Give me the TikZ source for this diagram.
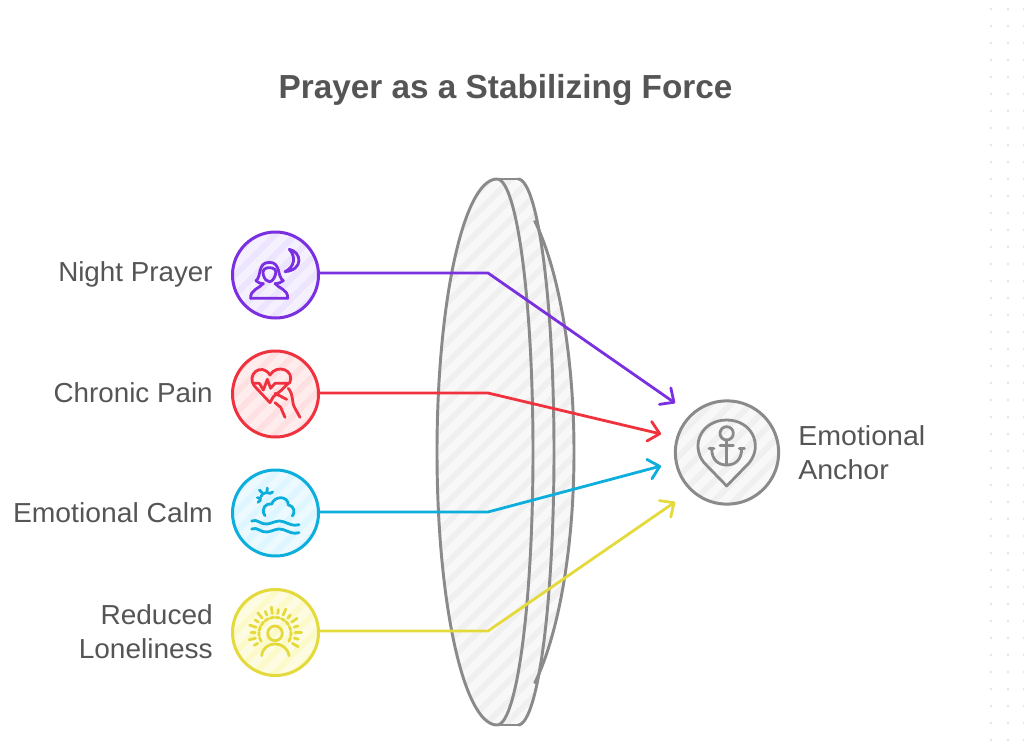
\documentclass[tikz,border=0pt]{standalone}
\usepackage{fontspec}
\setmainfont{Liberation Sans}
\usetikzlibrary{arrows.meta}
\pgfdeclarearrow{
  name=Chev,
  setup code={\pgfarrowssettipend{1pt}\pgfarrowssetlineend{-0.5pt}\pgfarrowssetbackend{-8pt}\pgfarrowssetvisualbackend{-0.5pt}},
  drawing code={\pgfsetdash{}{0pt}\pgfsetroundcap\pgfsetroundjoin
    \pgfpathmoveto{\pgfqpoint{-8pt}{7.5pt}}\pgfpathlineto{\pgfqpoint{0pt}{0pt}}\pgfpathlineto{\pgfqpoint{-8pt}{-7.5pt}}\pgfusepathqstroke},
  defaults={}
}
\definecolor{cpur}{HTML}{7A30E0}\definecolor{fpur}{HTML}{EDE4FD}\definecolor{spur}{HTML}{F5F0FE}
\definecolor{cred}{HTML}{F0323F}\definecolor{fred}{HTML}{FFE0E2}\definecolor{sred}{HTML}{FFEDEE}
\definecolor{cblu}{HTML}{0CAEDC}\definecolor{fblu}{HTML}{DDF6FF}\definecolor{sblu}{HTML}{ECFAFF}
\definecolor{cyel}{HTML}{E4DA3C}\definecolor{fyel}{HTML}{FBFAC8}\definecolor{syel}{HTML}{FDFCE2}
\definecolor{cgry}{HTML}{8A8A8A}\definecolor{fgry}{HTML}{F0F0F0}\definecolor{sgry}{HTML}{F8F8F8}
\definecolor{ctxt}{HTML}{555555}
\tikzset{
  x=0.75pt,y=-0.75pt,
  disc/.style={circle,minimum size=64.5pt,inner sep=0pt,line width=2.25pt},
  lab/.style={text=ctxt,font=\fontsize{20.6}{25.5}\selectfont,align=right,anchor=east,inner sep=0pt,transform shape},
  conn/.style={line width=2.1pt,line join=miter,-{Chev}},
  zoomed/.style={x=.25pt,y=-.25pt,line width=2.1pt,line cap=round,line join=round},
}
\begin{document}
\begin{tikzpicture}
\useasboundingbox (0,0) rectangle (1024,746);
\fill[white] (0,0) rectangle (1024,746);
% dotted margin
\foreach \c in {991,1008,1024}{\foreach \r in {0,...,43}{\fill[black!10] (\c,9+17*\r) circle (1.1pt);}}
% title
\node[text=ctxt,font=\bfseries\fontsize{25}{30}\selectfont,inner sep=0pt] (title) at (505.5,90) {Prayer as a Stabilizing Force};
% lens
\begin{scope}
  \clip plot[domain=-90:90,samples=61,smooth] ({518+36*cos(\x)},{452+273*sin(\x)}) -- (518,725)-- (497,725) -- plot[domain=90:270,samples=61,smooth] ({497+60*cos(\x)},{452+273*sin(\x)}) -- cycle
        plot[domain=-54.3:54.3,samples=41,smooth] ({490+84*cos(\x)},{452+273*sin(\x)}) -- cycle;
  \fill[fgry] (430,170) rectangle (580,730);
  \foreach \k in {0,...,60}{\draw[sgry,line width=6pt] (430,170+\k*20) -- ++(600,-600);}
\end{scope}
\draw[cgry,line width=2.2pt] plot[domain=-58:58,samples=41,smooth] ({490+84*cos(\x)},{452+273*sin(\x)});
\draw[cgry,line width=2.2pt] plot[domain=-90:90,samples=61,smooth] ({518+36*cos(\x)},{452+273*sin(\x)});
\draw[cgry,line width=2.2pt] plot[domain=-90:90,samples=61,smooth] ({497+36*cos(\x)},{452+273*sin(\x)});
\draw[cgry,line width=2.2pt] plot[domain=90:270,samples=61,smooth] ({497+60*cos(\x)},{452+273*sin(\x)});
\draw[cgry,line width=2.2pt] (497,179) -- (518,179) (497,725) -- (518,725);
% discs
\foreach \n/\cy/\cc/\ff/\ss in {a/275/cpur/fpur/spur,b/394/cred/fred/sred,c/513/cblu/fblu/sblu,d/632.5/cyel/fyel/syel}{
  \begin{scope}
    \clip (275.5,\cy) circle (32pt);
    \fill[\ff] (230,\cy-45) rectangle (320,\cy+45);
    \foreach \k in {0,...,12}{\draw[\ss,line width=6pt] (230,\cy-45+\k*20) -- ++(200,-200);}
  \end{scope}
  \node[disc,draw=\cc] (\n) at (275.5,\cy) {};
}
\begin{scope}
  \clip (727,452.5) circle (38.5pt);
  \fill[fgry] (670,395) rectangle (785,510);
  \foreach \k in {0,...,14}{\draw[sgry,line width=6pt] (670,395+\k*20) -- ++(250,-250);}
\end{scope}
\node[circle,minimum size=77.5pt,inner sep=0pt,line width=2.25pt,draw=cgry] (e) at (727,452.5) {};
% connectors
\coordinate (a1) at (488,273); \coordinate (b1) at (488,393); \coordinate (c1) at (488,512); \coordinate (d1) at (488,631);
\coordinate (a2) at (675,403); \coordinate (b2) at (661,434); \coordinate (c2) at (661,466); \coordinate (d2) at (675,502);
\draw[conn,cpur] (a.east |- a1) -- (a1) -- (a2);
\draw[conn,cred] (b.east |- b1) -- (b1) -- (b2);
\draw[conn,cblu] (c.east |- c1) -- (c1) -- (c2);
\draw[conn,cyel] (d.east |- d1) -- (d1) -- (d2);
% labels
\node[lab,xscale=1.012] (la) at (213,274) {Night Prayer};
\node[lab,xscale=1.012] (lb) at (213,393) {Chronic Pain};
\node[lab,xscale=1.03] (lc) at (213,513) {Emotional Calm};
\node[lab,xscale=1.02] (ld) at (213,632) {Reduced\\Loneliness};
\node[lab,align=left,anchor=west,xscale=1.04] (le) at (798,453) {Emotional\\Anchor};
% purple icon
\begin{scope}[shift={(220,220)},zoomed,draw=cpur]
  \draw (92,235) -- (203,235) .. controls (205,208) and (175,205) .. (165,190);
  \draw (92,235) .. controls (90,208) and (120,205) .. (130,190);
  \draw (130,192) .. controls (122,190) and (112,188) .. (108,182) .. controls (125,170) and (112,127) .. (148,127) .. controls (184,127) and (170,170) .. (190,182) .. controls (184,188) and (174,190) .. (165,192);
  \draw (130,165) .. controls (125,150) and (135,143) .. (148,143) .. controls (162,143) and (172,150) .. (166,165) .. controls (162,178) and (155,185) .. (148,185) .. controls (140,185) and (134,178) .. (130,165);
  \draw (208,88) .. controls (245,95) and (252,150) .. (195,155) .. controls (225,140) and (228,110) .. (208,88) -- cycle;
\end{scope}
% red icon
\begin{scope}[shift={(220,220)},zoomed,draw=cred]
  \draw (150,548) -- (105,500) .. controls (75,465) and (125,425) .. (150,465) .. controls (170,430) and (228,450) .. (208,490);
  \draw (100,490) -- (118,490) -- (130,510) -- (142,478) -- (152,505) -- (165,490) -- (205,490) -- (185,510) -- (160,530) -- (150,548);
  \draw (165,520) -- (200,538);
  \draw (165,548) -- (182,562) -- (195,592);
  \draw (205,505) .. controls (222,525) and (215,555) .. (225,565) -- (240,592);
\end{scope}
% blue icon
\begin{scope}[shift={(220,460)},zoomed,draw=cblu]
  \draw (135,167) .. controls (120,145) and (140,128) .. (155,132) .. controls (165,105) and (205,108) .. (205,135) .. controls (225,140) and (225,158) .. (217,168);
  \draw (123,110) .. controls (125,100) and (140,95) .. (150,100);
  \draw (112,113) -- (122,115) (118,90) -- (126,98) (142,84) -- (141,94) (158,96) -- (150,100) (114,127) -- (122,120);
  \draw (95,183) .. controls (112,175) and (122,195) .. (142,192) .. controls (158,190) and (172,178) .. (190,185) .. controls (205,190) and (220,200) .. (237,194);
  \draw (95,207) .. controls (112,199) and (122,219) .. (142,216) .. controls (158,214) and (172,202) .. (190,209) .. controls (205,214) and (220,224) .. (237,218);
\end{scope}
% yellow icon
\begin{scope}[shift={(220,460)},zoomed,draw=cyel]
  \draw (165,520) circle (22);
  \draw (125,587) .. controls (130,540) and (200,540) .. (207,587);
  \draw[dash pattern=on 2.7pt off 1.6pt] (123.4,544) arc[start angle=-210,end angle=30,radius=48];
  \foreach \a/\l in {30/20,14/12,-2/20,-18/12,-34/20,-50/12,-66/20,-82/12,-98/20,-114/12,-130/20,-146/12,-162/20,-178/12,-194/20,-210/12}{
    \draw (165,520) ++(\a:60) -- ++(\a:\l);
  }
\end{scope}
% anchor icon
\begin{scope}[shift={(640,380)},zoomed,draw=cgry]
  \draw (260,318) -- (192,248) .. controls (150,195) and (185,120) .. (260,120) .. controls (335,120) and (370,195) .. (328,248) -- cycle;
  \draw (260,160) circle (20);
  \draw (260,180) -- (260,255) (240,197) -- (280,197);
  \draw (215,205) .. controls (215,240) and (235,255) .. (260,255) .. controls (285,255) and (305,240) .. (305,205);
  \draw (207,205) -- (222,205) (298,205) -- (313,205);
\end{scope}
\end{tikzpicture}
\end{document}
